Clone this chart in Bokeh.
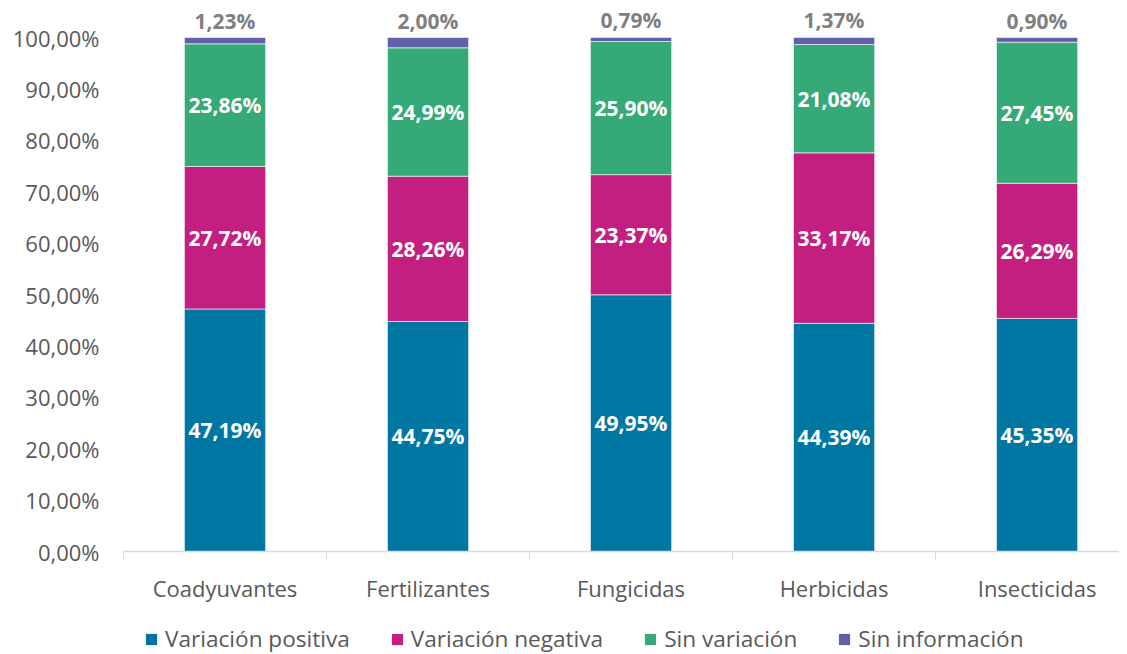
from bokeh.plotting import figure
from bokeh.layouts import column
from bokeh.models import (ColumnDataSource, Range1d, FixedTicker, Legend, LegendItem)
from bokeh.core.properties import value
from bokeh.embed import file_html
from bokeh.resources import INLINE

categories = ["Coadyuvantes", "Fertilizantes", "Fungicidas", "Herbicidas", "Insecticidas"]
variacion_positiva = [47.19, 44.75, 49.95, 44.39, 45.35]
variacion_negativa = [27.72, 28.26, 23.37, 33.17, 26.29]
sin_variacion = [23.86, 24.99, 25.90, 21.08, 27.45]
sin_informacion = [1.23, 2.00, 0.79, 1.37, 0.90]
series_names = ["Variación positiva", "Variación negativa", "Sin variación", "Sin información"]
y_ticks = [0, 10, 20, 30, 40, 50, 60, 70, 80, 90, 100]

colors = ["#0077A3", "#C21F80", "#36A978", "#6060A8"]
FONT = "Open Sans"
GRAY = "#595959"

def fmt(v):
    return f"{v:.2f}".replace(".", ",") + "%"

xs = [i + 0.5 for i in range(len(categories))]
keys = ["pos", "neg", "sv", "si"]
data = dict(x=xs, pos=variacion_positiva, neg=variacion_negativa,
            sv=sin_variacion, si=sin_informacion)
src = ColumnDataSource(data)

p = figure(width=1119, height=605, output_backend="svg", toolbar_location=None,
           x_range=Range1d(0, 4.906), y_range=Range1d(0, 107.2),
           min_border_left=123, min_border_right=0, min_border_top=0,
           min_border_bottom=54)
p.outline_line_color = None
p.background_fill_color = "white"
p.grid.visible = False

rs = p.vbar_stack(keys, x="x", width=0.4, source=src, color=colors,
                  line_color="white", line_width=0.6)

# labels inside the bars
lx, ly, lt = [], [], []
for i, x in enumerate(xs):
    base = 0
    for arr in (variacion_positiva, variacion_negativa, sin_variacion):
        v = arr[i]
        lx.append(x); ly.append(base + v / 2); lt.append(fmt(v))
        base += v
p.text(x=lx, y=ly, text=lt, text_align="center", text_baseline="middle",
       text_font=value(FONT), text_font_style="bold", text_font_size="21px",
       text_color="white")

# labels above the bars
tops = [a + b + c + d for a, b, c, d in zip(variacion_positiva, variacion_negativa,
                                             sin_variacion, sin_informacion)]
tt = [fmt(v) for v in sin_informacion]
p.text(x=xs, y=tops, text=tt, text_align="center", text_baseline="bottom",
       y_offset=-3, text_font=value(FONT), text_font_style="bold",
       text_font_size="21px", text_color="#7F7F7F")

# x axis
xa = p.xaxis[0]
xa.ticker = FixedTicker(ticks=xs, minor_ticks=[0, 1, 2, 3, 4, 5])
xa.major_label_overrides = {x: c for x, c in zip(xs, categories)}
xa.major_tick_line_color = None
xa.minor_tick_line_color = "#D9D9D9"
xa.minor_tick_out = 8
xa.minor_tick_in = 0
xa.axis_line_color = "#D9D9D9"
xa.axis_line_width = 1.5
xa.major_label_standoff = 13
xa.major_label_text_font = FONT
xa.major_label_text_font_size = "22px"
xa.major_label_text_color = GRAY

ya = p.yaxis[0]
ya.ticker = FixedTicker(ticks=y_ticks)
ya.major_label_overrides = {t: f"{t},00%" for t in y_ticks}
ya.axis_line_color = None
ya.major_tick_line_color = None
ya.minor_tick_line_color = None
ya.major_label_standoff = 18
ya.major_label_text_font = FONT
ya.major_label_text_font_size = "22px"
ya.major_label_text_color = GRAY

# legend figure
lg = figure(width=1119, height=49, output_backend="svg", toolbar_location=None,
            x_range=Range1d(0, 1), y_range=Range1d(0, 1),
            min_border_left=0, min_border_right=0, min_border_top=0, min_border_bottom=0)
lg.axis.visible = False
lg.grid.visible = False
lg.outline_line_color = None
lrs = lg.vbar_stack(keys, x="x", width=0.4, source=src, color=colors, line_color=None)
for r in lrs:
    r.visible = False
legend = Legend(items=[LegendItem(label=n, renderers=[r]) for n, r in zip(series_names, lrs)],
                orientation="horizontal", location=(21, 0),
                glyph_width=14, glyph_height=14, label_standoff=7, spacing=40,
                label_text_font=FONT, label_text_font_size="22.6px",
                label_text_color=GRAY, border_line_color=None,
                background_fill_alpha=0, inactive_fill_alpha=0, margin=0, padding=0,
                click_policy="none")
lg.add_layout(legend, "center")

layout = column(p, lg, spacing=0)
open("out.html", "w").write(file_html(layout, INLINE))
